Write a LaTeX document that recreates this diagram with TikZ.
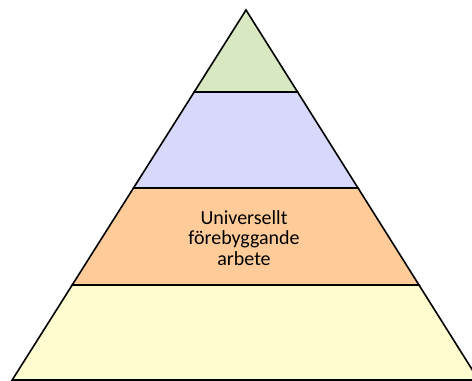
\documentclass[tikz,border=0pt]{standalone}
\usepackage{fontspec}
\setsansfont{Carlito}

\begin{document}
\begin{tikzpicture}[x=0.75pt,y=0.75pt,yscale=-1,xscale=1]
\useasboundingbox (0,0) rectangle (472,381);
\clip (0,0) rectangle (472,381);

%Shape: Trapezoid [id:bottom]
\draw [fill={rgb, 255:red, 255; green, 252; blue, 208 }  ,fill opacity=1 ][line width=1.2]  (72.2,285) -- (419,285) -- (478.7,380) -- (12.2,380) -- cycle ;
%Shape: Trapezoid [id:orange]
\draw [fill={rgb, 255:red, 255; green, 204; blue, 153 }  ,fill opacity=1 ][line width=1.2]  (133.5,188) -- (358,188) -- (419,285) -- (72.2,285) -- cycle ;
%Shape: Trapezoid [id:blue]
\draw [fill={rgb, 255:red, 216; green, 216; blue, 252 }  ,fill opacity=1 ][line width=1.2]  (194.2,92) -- (297.6,92) -- (358,188) -- (133.5,188) -- cycle ;
%Shape: Triangle [id:top]
\draw [fill={rgb, 255:red, 216; green, 232; blue, 192 }  ,fill opacity=1 ][line width=1.2]  (246,10) -- (297.6,92) -- (194.2,92) -- cycle ;

% Text Node
\draw (244,238) node (univ) [align=center,inner sep=0.75pt,font=\sffamily\fontsize{15}{15.5}\selectfont]   {Universellt\\förebyggande\\arbete};

\end{tikzpicture}
\end{document}
